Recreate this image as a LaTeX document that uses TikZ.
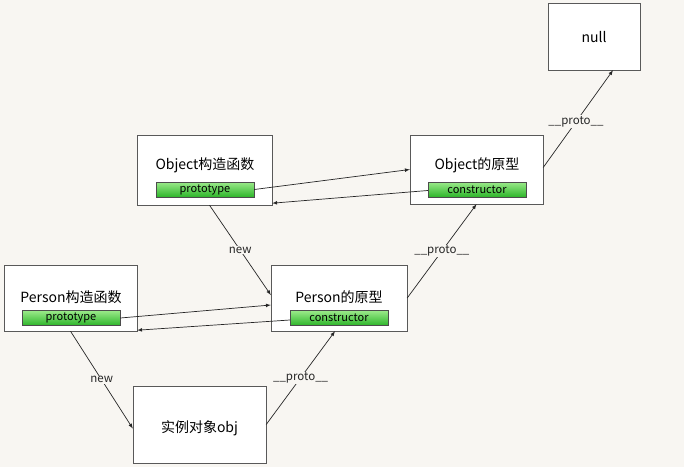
\documentclass[tikz,border=0pt]{standalone}
\usepackage{fontspec}
\setmainfont{Noto Sans CJK SC}
\usetikzlibrary{calc}
\definecolor{bg}{HTML}{F8F6F2}
\definecolor{gtop}{HTML}{9BEA8A}
\definecolor{gbot}{HTML}{2DB52A}
\begin{document}
\begin{tikzpicture}[x=1pt,y=-1pt,
  box/.style={draw=gray!70!black,fill=white,rectangle,inner sep=0pt},
  bar/.style={draw=black!70,top color=gtop,bottom color=gbot,minimum width=98pt,minimum height=15pt,inner sep=0pt,font=\fontsize{11}{12}\selectfont},
  ttl/.style={font=\fontsize{14}{16}\selectfont,inner sep=0pt},
  arr/.style={-latex,black!85,line width=0.7pt},
  lab/.style={fill=bg,inner sep=1pt,font=\fontsize{11.5}{13}\selectfont}]
\fill[bg] (0,0) rectangle (684,467);
\useasboundingbox (0,0) rectangle (684,467);
\node[box,minimum width=92pt,minimum height=67pt] (null) at (594,36.5) {};
\node[ttl] (nullt) at (594,37) {null};
\node[box,minimum width=135pt,minimum height=70pt] (oc) at (204.5,170) {};
\node[ttl] (oct) at (205,165) {Object构造函数};
\node[bar] (ocp) at (205,189.5) {prototype};
\node[box,minimum width=133pt,minimum height=69pt] (op) at (476.5,169.5) {};
\node[ttl] (opt) at (477,165) {Object的原型};
\node[bar] (opc) at (477,189.5) {constructor};
\node[box,minimum width=133pt,minimum height=66pt] (pc) at (70.5,298) {};
\node[ttl] (pct) at (71,297) {Person构造函数};
\node[bar] (pcp) at (71,318) {prototype};
\node[box,minimum width=136pt,minimum height=66pt] (pp) at (339,298) {};
\node[ttl] (ppt) at (339,297) {Person的原型};
\node[bar] (ppc) at (339,318) {constructor};
\node[box,minimum width=133pt,minimum height=77pt] (obj) at (199.5,424.5) {};
\node[ttl] (objt) at (199.5,428) {实例对象obj};
\draw[arr] (ocp.east) -- ($(op.west)+(0,0)$);
\draw[arr] ($(opc.west)+(0,1)$) -- ($(oc.south east)+(0,-2)$);
\draw[arr] ($(pcp.east)+(0,0)$) -- ($(pp.west)+(0,7)$);
\draw[arr] ($(ppc.west)+(0,2)$) -- ($(pc.south east)+(0,-1)$);
\draw[arr] ($(oc.south)+(5,0)$) -- node[lab]{new} ($(pp.west)+(0,-3)$);
\draw[arr] ($(pc.south)+(0,0)$) -- node[lab]{new} ($(obj.west)+(0,4)$);
\draw[arr] ($(obj.east)+(0,0)$) -- node[lab]{\_\_proto\_\_} ($(pp.south)+(-4,0)$);
\draw[arr] ($(pp.east)+(0,0)$) -- node[lab]{\_\_proto\_\_} ($(op.south)+(0,0)$);
\draw[arr] ($(op.east)+(0,-2)$) -- node[lab,pos=0.47]{\_\_proto\_\_} ($(null.south)+(19,0)$);
\end{tikzpicture}
\end{document}
